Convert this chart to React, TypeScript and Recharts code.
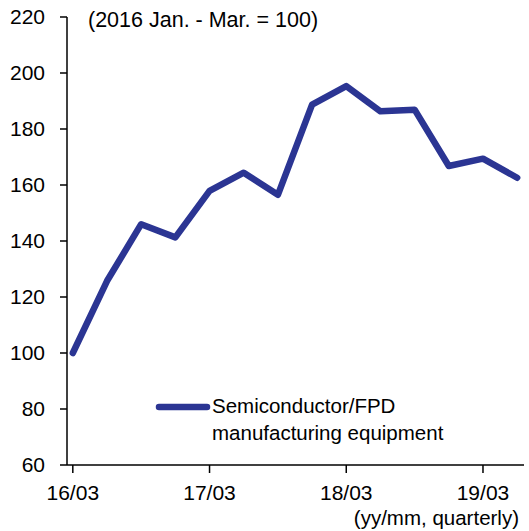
import { LineChart, Line, XAxis, YAxis } from "recharts"

const quarters = [
  "16/03", "16/06", "16/09", "16/12",
  "17/03", "17/06", "17/09", "17/12",
  "18/03", "18/06", "18/09", "18/12",
  "19/03", "19/06"
]

// 2016 Jan. - Mar. = 100
const equipment = [
  100, 125.7, 146, 141.3,
  157.9, 164.4, 156.5, 188.7,
  195.3, 186.3, 186.9, 166.8,
  169.4, 162.6
]

const yTicks = [60, 80, 100, 120, 140, 160, 180, 200, 220]
const xTickIndexes = [0, 4, 8, 12]

const seriesLines = ["Semiconductor/FPD", "manufacturing equipment"]
const lineColor = "#2b3593"
const font = "'Liberation Sans', Arial, sans-serif"

const chartData = quarters.map((label, idx) => ({
  idx,
  label,
  value: equipment[idx]
}))

function LegendBox() {
  return (
    <div
      style={{
        position: "absolute",
        left: 155,
        top: 392,
        display: "flex",
        alignItems: "flex-start",
        fontFamily: font,
        fontSize: 20.5,
        color: "#000",
        whiteSpace: "nowrap"
      }}
    >
      <svg width={57} height={20} style={{ marginTop: 5 }}>
        <line x1={4} y1={10} x2={52} y2={10} stroke={lineColor} strokeWidth={6.5} strokeLinecap="round" />
      </svg>
      <div style={{ lineHeight: "27px" }}>
        {seriesLines[0]}
        <br />
        {seriesLines[1]}
      </div>
    </div>
  )
}

export default function App() {
  return (
    <div style={{ position: "absolute", left: 0, top: 0, width: 529, height: 531, background: "#fff" }}>
      <LineChart
        width={529}
        height={531}
        data={chartData}
        margin={{ top: 17, right: 5, left: 0, bottom: 36 }}
      >
        <XAxis
          type="number"
          dataKey="idx"
          domain={[-0.17, 13.2]}
          allowDataOverflow
          ticks={xTickIndexes}
          tickFormatter={(i: number) => quarters[i]}
          height={30}
          tickSize={8}
          tickMargin={12}
          stroke="#000"
          strokeWidth={1.5}
          tick={{ fill: "#000", fontSize: 21, fontFamily: font }}
        />
        <YAxis
          domain={[60, 220]}
          ticks={yTicks}
          interval={0}
          width={67}
          tickSize={7}
          tickMargin={15}
          stroke="#000"
          strokeWidth={1.5}
          tick={{ fill: "#000", fontSize: 21, fontFamily: font }}
        />
        <Line
          type="linear"
          dataKey="value"
          name={seriesLines.join(" ")}
          stroke={lineColor}
          strokeWidth={6.5}
          strokeLinecap="round"
          strokeLinejoin="round"
          dot={false}
          isAnimationActive={false}
        />
      </LineChart>
      <LegendBox />
      <div style={{ position: "absolute", left: 88, top: 8, fontFamily: font, fontSize: 21.5, color: "#000", whiteSpace: "nowrap" }}>
        (2016 Jan. - Mar. = 100)
      </div>
      <div style={{ position: "absolute", right: 10, top: 506, fontFamily: font, fontSize: 20.5, color: "#000", whiteSpace: "nowrap" }}>
        (yy/mm, quarterly)
      </div>
    </div>
  )
}
